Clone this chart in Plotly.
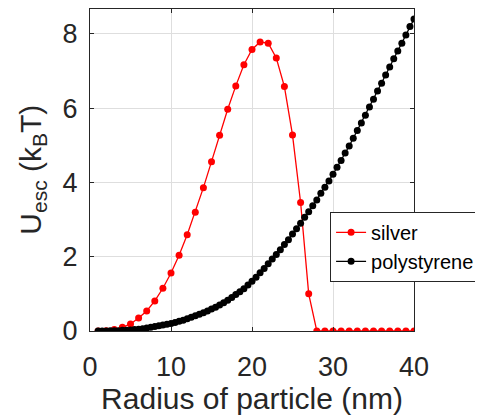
import plotly.graph_objects as go

# Silver: radius 1..40 nm (step 1)
silver_r = list(range(1, 41))
silver_u = [0.00, 0.01, 0.04, 0.10, 0.19, 0.35, 0.54, 0.81, 1.15, 1.56,
            2.04, 2.59, 3.20, 3.86, 4.56, 5.27, 5.97, 6.60, 7.17, 7.58,
            7.78, 7.75, 7.35, 6.58, 5.28, 3.46, 1.00, 0.00, 0.00, 0.00,
            0.00, 0.00, 0.00, 0.00, 0.00, 0.00, 0.00, 0.00, 0.00, 0.00]

# Polystyrene: radius 1..40 nm (step 0.5)
poly_r = [1 + 0.5 * i for i in range(79)]
poly_u = [0.00, 0.00, 0.00, 0.01, 0.01, 0.01, 0.02, 0.02, 0.03, 0.04,
          0.05, 0.06, 0.08, 0.10, 0.12, 0.14, 0.16, 0.18, 0.20, 0.23,
          0.26, 0.29, 0.33, 0.37, 0.41, 0.45, 0.49, 0.54, 0.59, 0.64,
          0.70, 0.76, 0.83, 0.90, 0.98, 1.06, 1.14, 1.24, 1.34, 1.45,
          1.57, 1.68, 1.81, 1.94, 2.06, 2.19, 2.33, 2.46, 2.61, 2.75,
          2.90, 3.06, 3.21, 3.37, 3.53, 3.71, 3.87, 4.04, 4.22, 4.41,
          4.59, 4.79, 4.98, 5.19, 5.40, 5.60, 5.81, 6.03, 6.24, 6.46,
          6.67, 6.89, 7.11, 7.33, 7.54, 7.75, 7.97, 8.20, 8.40]

x_ticks = [0, 10, 20, 30, 40]
y_ticks = [0, 2, 4, 6, 8]

FONT = "Liberation Sans, Arial, sans-serif"
AX = "#262626"

fig = go.Figure()
fig.add_trace(go.Scatter(
    x=silver_r, y=silver_u, mode="lines+markers", name="silver",
    line=dict(color="#ff0000", width=1.3),
    marker=dict(color="#ff0000", size=7),
))
fig.add_trace(go.Scatter(
    x=poly_r, y=poly_u, mode="lines+markers", name="polystyrene",
    line=dict(color="#000000", width=1.3),
    marker=dict(color="#000000", size=7),
))

axis_common = dict(
    showline=True, linecolor=AX, linewidth=1, mirror="ticks",
    ticks="inside", ticklen=4, tickcolor=AX,
    showgrid=True, gridcolor="#dedede", gridwidth=1,
    zeroline=False, tickfont=dict(family=FONT, size=27, color=AX),
)

# page body adds an 8px offset; margins compensate so the plot area
# lands at x 90..414, y 9..331 of the window
fig.update_layout(
    width=483, height=419,
    margin=dict(l=82, r=77, t=1, b=96, autoexpand=False),
    paper_bgcolor="white", plot_bgcolor="white",
    font=dict(family=FONT, color=AX),
    xaxis=dict(range=[0, 40], tickvals=x_ticks, ticklabelstandoff=12,
               title=dict(text="Radius of particle (nm)",
                          font=dict(family=FONT, size=30, color=AX),
                          standoff=6),
               **axis_common),
    yaxis=dict(range=[0, 8.67], tickvals=y_ticks, ticklabelstandoff=6,
               **axis_common),
    legend=dict(x=0.741, y=0.37, xanchor="left", yanchor="top",
                bgcolor="white", bordercolor=AX, borderwidth=1,
                font=dict(family=FONT, size=20, color="#000000"),
                tracegroupgap=0, itemwidth=30),
    showlegend=True,
    annotations=[dict(
        text="U<sub>esc</sub> (k<sub>B</sub>T)",
        xref="paper", yref="paper", x=-0.18, y=0.5,
        xanchor="center", yanchor="middle", textangle=-90,
        showarrow=False, font=dict(family=FONT, size=30, color=AX),
    )],
)

fig.write_html("out.html")
